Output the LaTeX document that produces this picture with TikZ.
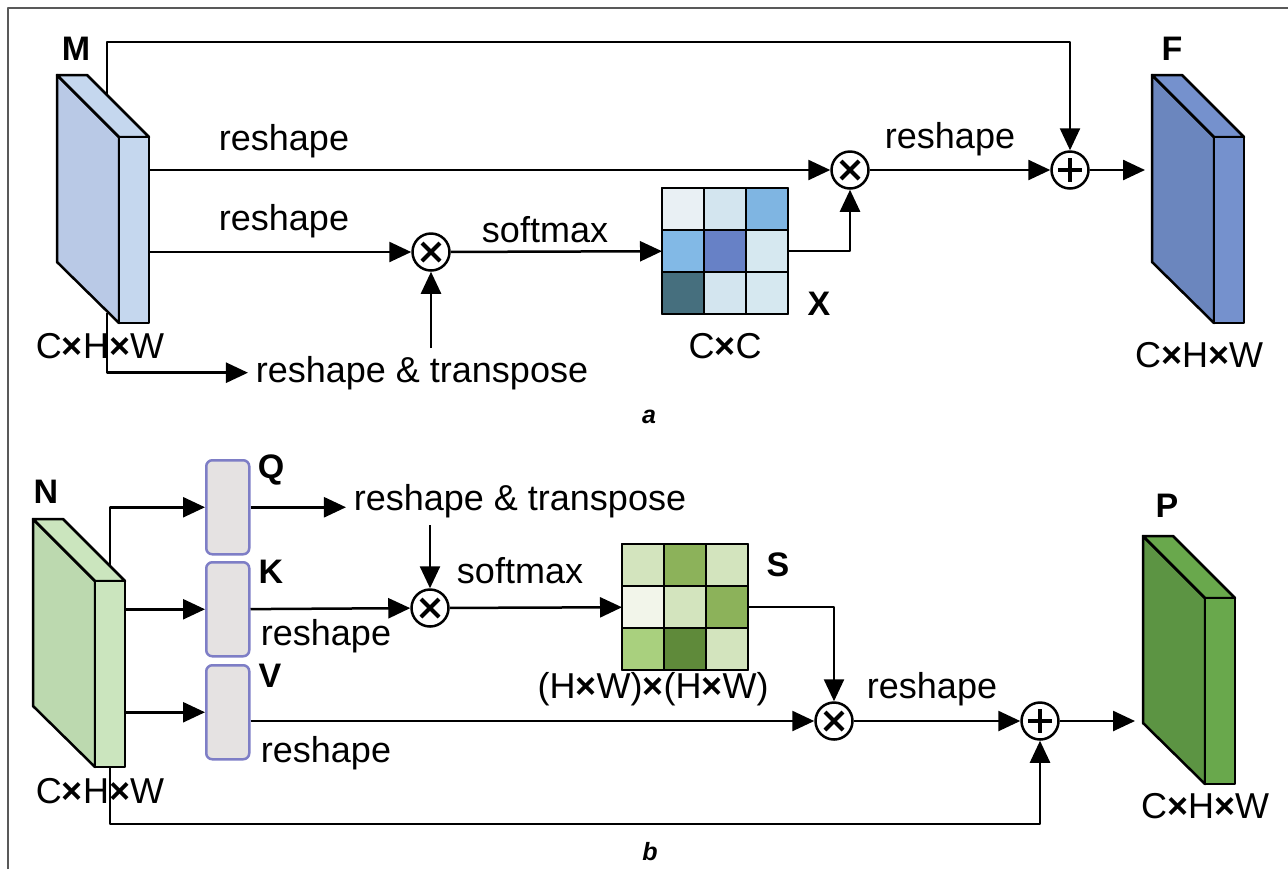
\documentclass[tikz,border=0pt]{standalone}
\usepackage{fontspec}
\setmainfont{Liberation Sans}
\usetikzlibrary{arrows.meta}

\definecolor{mFace}{HTML}{B9C9E6}
\definecolor{mSide}{HTML}{C5D7EE}
\definecolor{fFace}{HTML}{6B86BE}
\definecolor{fSide}{HTML}{7591CD}
\definecolor{nFace}{HTML}{BCD9AF}
\definecolor{nSide}{HTML}{CBE5BE}
\definecolor{pFace}{HTML}{5C9443}
\definecolor{pSide}{HTML}{69A84C}
\definecolor{qkvFill}{HTML}{E5E2E2}
\definecolor{qkvEdge}{HTML}{7E7EC6}

% feature map block: name, x0, y0 (top-left corner), face colour, side colour
\newcommand{\featmap}[5]{%
  \filldraw[fill=#4] (#2,#3) -- ++(62,62) -- ++(0,186) -- ++(-62,-61) -- cycle;
  \filldraw[fill=#5] (#2,#3) -- ++(30,0) -- ++(62,62) -- ++(-30,0) -- cycle;
  \node[draw, fill=#5, inner sep=0pt, outer sep=0pt, minimum width=15pt,
        minimum height=93pt, anchor=north west] (#1side) at (#2+62,#3+62) {};
}

\begin{document}
\begin{tikzpicture}[x=0.5pt, y=-0.5pt, line width=1.25pt, line join=round,
    font=\fontsize{18}{21}\selectfont, >={Triangle[length=11pt, width=10pt]},
    txt/.style={anchor=base},
    lbl/.style={anchor=base, font=\fontsize{17}{20}\selectfont\bfseries},
    panel/.style={anchor=base, font=\fontsize{12.5}{14}\selectfont\bfseries\itshape},
    op/.style={circle, draw, fill=white, minimum size=18.5pt, inner sep=0pt},
    mulop/.style={op, path picture={
        \draw[line width=2pt] ([shift={(-4.5pt,-4.5pt)}]path picture bounding box.center)
          -- ([shift={(4.5pt,4.5pt)}]path picture bounding box.center);
        \draw[line width=2pt] ([shift={(-4.5pt,4.5pt)}]path picture bounding box.center)
          -- ([shift={(4.5pt,-4.5pt)}]path picture bounding box.center);}},
    addop/.style={op, path picture={
        \draw[line width=1.9pt] ([xshift=-5.8pt]path picture bounding box.center)
          -- ([xshift=5.8pt]path picture bounding box.center);
        \draw[line width=1.9pt] ([yshift=-5.8pt]path picture bounding box.center)
          -- ([yshift=5.8pt]path picture bounding box.center);}},
    attn/.style={draw, inner sep=0pt, outer sep=0pt, minimum size=63pt},
    qkv/.style={draw=qkvEdge, fill=qkvFill, rounded corners=3pt, inner sep=0pt,
        minimum width=21.5pt, minimum height=47pt, anchor=north west}]
  \useasboundingbox (0,0) rectangle (1288,869);
  \draw[gray!70!black, line width=0.9pt] (8,869) -- (8,8) -- (1288,8);

  % ---------------- (a) channel attention ----------------
  \featmap{M}{57}{75}{mFace}{mSide}
  \featmap{F}{1152}{75}{fFace}{fSide}
  \node[lbl] (Mlab) at (76,60) {M};
  \node[lbl] (Flab) at (1172,60) {F};
  \node[txt] (Mdim) at (100,358) {C{\bfseries ×}H{\bfseries ×}W};
  \node[txt] (Fdim) at (1199,367) {C{\bfseries ×}H{\bfseries ×}W};
  \coordinate (Mtop) at (107,95);
  \coordinate (Mbot) at (107,313);
  \coordinate (skipA) at (0,42);
  \coordinate (Fin) at (1145,170);

  \node[mulop] (mulA) at (431,252) {};
  \node[mulop] (mulX) at (850,170) {};
  \node[addop] (addF) at (1070,170) {};
  \node[attn] (Xmat) at (725,251) {};
  \foreach \col/\row/\clr in {0/0/E9F0F4, 1/0/D3E5EF, 2/0/7FB5E2,
                              0/1/82B9E6, 1/1/6781C6, 2/1/D6E8F0,
                              0/2/466F7E, 1/2/D3E5EF, 2/2/D6E8F0} {
    \definecolor{cellc}{HTML}{\clr}
    \filldraw[fill=cellc] ([shift={(\col*42,\row*42)}]Xmat.north west) rectangle +(42,42);
  }
  \node[lbl] (Xlab) at (819,315) {X};
  \node[txt] (Xdim) at (725,358) {C{\bfseries ×}C};
  \node[txt] (rtA) at (422,382) {reshape \& transpose};

  \draw[->] (Mtop) |- (skipA -| addF) -- (addF);
  \draw[->] (Mside.east |- mulX) -- (mulX);
  \node[txt] at (284,150) {reshape};
  \draw[->] (Mside.east |- mulA) -- (mulA);
  \node[txt] at (284,230) {reshape};
  \draw[->] (Mbot) |- (rtA.west);
  \draw[->] (rtA.north -| mulA) -- (mulA);
  \draw[->] (mulA) -- (Xmat);
  \node[txt] at (545,242) {softmax};
  \draw[->] (Xmat) -| (mulX);
  \draw[->] (mulX) -- (addF);
  \node[txt] at (950,148) {reshape};
  \draw[->] (addF) -- (Fin);
  \node[panel] at (649,423) {a};

  % ---------------- (b) position attention ----------------
  \featmap{N}{33}{519}{nFace}{nSide}
  \featmap{P}{1143}{536}{pFace}{pSide}
  \node[lbl] (Nlab) at (46,503) {N};
  \node[lbl] (Plab) at (1167,517) {P};
  \node[txt] (Ndim) at (100,803) {C{\bfseries ×}H{\bfseries ×}W};
  \node[txt] (Pdim) at (1205,818) {C{\bfseries ×}H{\bfseries ×}W};
  \coordinate (Ntop) at (110,565);
  \coordinate (skipB) at (0,824);
  \coordinate (Pin) at (1135,721);

  \node[qkv] (Qbox) at (205,459) {};
  \node[qkv] (Kbox) at (205,561) {};
  \node[qkv] (Vbox) at (205,664) {};
  \node[lbl] (Qlab) at (271,478) {Q};
  \node[lbl] (Klab) at (271,583) {K};
  \node[lbl] (Vlab) at (270,687) {V};

  \node[mulop] (mulK) at (430,608) {};
  \node[mulop] (mulV) at (834,721) {};
  \node[addop] (addP) at (1040,721) {};
  \node[attn] (Smat) at (685,607) {};
  \foreach \col/\row/\clr in {0/0/D3E4BE, 1/0/8CB25A, 2/0/D3E4BE,
                              0/1/F2F5EA, 1/1/D3E4BE, 2/1/8CB25A,
                              0/2/A9D07E, 1/2/5F8A3A, 2/2/D3E4BE} {
    \definecolor{cellc}{HTML}{\clr}
    \filldraw[fill=cellc] ([shift={(\col*42,\row*42)}]Smat.north west) rectangle +(42,42);
  }
  \node[lbl] (Slab) at (778,576) {S};
  \node[txt] (Sdim) at (653,698) {(H{\bfseries ×}W){\bfseries ×}(H{\bfseries ×}W)};
  \node[txt] (rtB) at (520,510) {reshape \& transpose};

  \draw[->] (Ntop) |- (Qbox);
  \draw[->] (Nside.east |- Kbox) -- (Kbox);
  \draw[->] (Nside.east |- Vbox) -- (Vbox);
  \draw[->] (Qbox) -- (Qbox -| rtB.west);
  \draw[->] (rtB.south -| mulK) -- (mulK);
  \draw[->] (Kbox) -- (mulK);
  \node[txt] at (326,645) {reshape};
  \draw[->] (mulK) -- (Smat);
  \node[txt] at (520,583) {softmax};
  \draw[->] (Smat) -| (mulV);
  \draw[->] (Vbox.east |- mulV) -- (mulV);
  \node[txt] at (326,762) {reshape};
  \draw[->] (mulV) -- (addP);
  \node[txt] at (932,698) {reshape};
  \draw[->] (addP) -- (Pin);
  \draw[->] (Nside.south) |- (skipB -| addP) -- (addP);
  \node[panel] at (650,860) {b};
\end{tikzpicture}
\end{document}
